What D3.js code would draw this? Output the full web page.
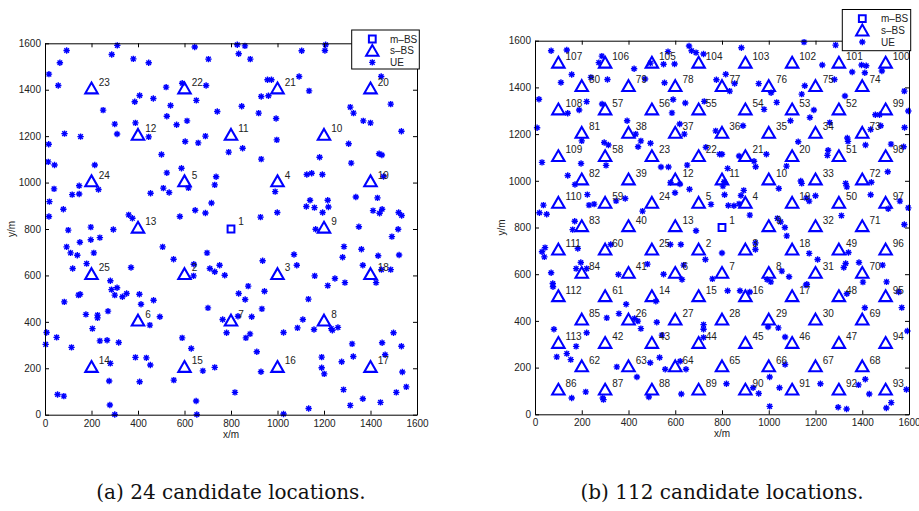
<!DOCTYPE html>
<html>
<head>
<meta charset="utf-8">
<title>candidate locations</title>
<script src="https://d3js.org/d3.v7.min.js"></script>
<style>
  body { margin: 0; background: #fff; }
  svg text { font-family: "Liberation Sans", Arial, sans-serif; }
</style>
</head>
<body>
<svg width="919" height="511"></svg>
<script>
// tick values shared by both panels
const ticks = [0, 200, 400, 600, 800, 1000, 1200, 1400, 1600];

// (a) 24 candidate locations
const aMacro = [[800, 800, 1]];
const aSmall = [
  [600,600,2],[1000,600,3],[1000,1000,4],[600,1000,5],[400,400,6],[800,400,7],[1200,400,8],
  [1200,800,9],[1200,1200,10],[800,1200,11],[400,1200,12],[400,800,13],[200,200,14],[600,200,15],
  [1000,200,16],[1400,200,17],[1400,600,18],[1400,1000,19],[1400,1400,20],[1000,1400,21],
  [600,1400,22],[200,1400,23],[200,1000,24],[200,600,25]
];
const aUE = [
  [93,1569],[64,1516],[17,1467],[57,1418],[311,1591],[287,1552],[380,1533],[446,1516],[644,1584],[703,1532],
  [827,1594],[833,1555],[250,1312],[386,1348],[407,1375],[466,1362],[300,1252],[310,1209],[389,1257],[84,1211],
  [153,1198],[446,1197],[16,1165],[14,1089],[41,1076],[214,1076],[230,970],[147,986],[147,951],[117,948],
  [39,973],[19,918],[79,885],[100,795],[17,854],[197,808],[197,754],[236,763],[150,743],[93,723],
  [294,798],[360,861],[376,846],[506,723],[501,1121],[524,1042],[509,976],[534,957],[454,954],[587,1062],
  [617,977],[580,854],[646,881],[690,869],[716,912],[730,990],[736,1025],[790,1131],[659,1171],[603,1177],
  [690,1200],[611,1266],[566,1249],[651,1354],[540,1332],[524,1286],[521,1411],[590,1428],[693,1418],[741,1306],
  [860,1589],[883,1532],[1104,1568],[1207,1594],[1204,1569],[1093,1457],[957,1443],[974,1443],[1136,1395],[930,1371],
  [961,1374],[846,1329],[919,1299],[994,1276],[997,1184],[850,1148],[930,1101],[1181,1109],[1306,1167],[1317,1084],
  [1313,1325],[1327,1299],[1369,1266],[1400,1257],[1487,1338],[1533,1221],[1446,1457],[1437,1124],[1449,1119],[1126,1035],
  [1147,1040],[1193,1035],[990,961],[999,871],[927,851],[1140,924],[1124,897],[1159,892],[1216,924],[1219,895],
  [1194,871],[1164,799],[1337,938],[1430,934],[1411,879],[1439,868],[1450,885],[1521,871],[1534,858],[1456,1026],
  [1350,810],[1519,799],[1492,767],[1286,724],[1361,713],
  [110,697],[139,687],[179,651],[210,697],[119,630],[553,670],[640,648],[639,598],[697,697],[709,630],
  [730,616],[751,644],[773,601],[370,634],[281,577],[286,539],[310,547],[300,515],[333,508],[351,522],
  [406,519],[413,476],[467,493],[494,422],[451,386],[83,486],[144,515],[151,519],[176,432],[226,429],
  [226,417],[271,446],[204,371],[7,354],[3,303],[50,333],[114,290],[236,318],[267,321],[317,311],
  [389,247],[436,245],[453,214],[281,221],[276,145],[279,42],[300,1],[407,142],[54,87],[81,80],
  [554,149],[590,331],[629,285],[679,189],[730,204],[650,59],[653,1],[701,460],[764,410],[781,353],
  [817,96],[833,522],[830,424],
  [936,663],[1071,690],[1083,644],[874,554],[861,496],[944,532],[933,456],[889,422],[864,331],[882,348],
  [911,271],[929,185],[1026,354],[1086,374],[1109,410],[1133,498],[1160,598],[1216,556],[1247,587],[1280,678],
  [1290,569],[1367,644],[1433,685],[1523,688],[1447,625],[1487,625],[1424,569],[1157,367],[1231,371],[1236,364],
  [1260,376],[1190,248],[1190,202],[1201,176],[1276,228],[1321,305],[1326,251],[1450,310],[1463,258],[1499,353],
  [1533,295],[1537,184],[1554,120],[1511,96],[1443,53],[1367,69],[1313,40],[1284,108],[1134,27],[1026,3]
];

// (b) 112 candidate locations
const bMacro = [[800, 800, 1]];
const bSmall = [
  [100,1500,107],[300,1500,106],[500,1500,105],[700,1500,104],[900,1500,103],[1100,1500,102],[1300,1500,101],[1500,1500,100],
  [200,1400,80],[400,1400,79],[600,1400,78],[800,1400,77],[1000,1400,76],[1200,1400,75],[1400,1400,74],
  [100,1300,108],[300,1300,57],[500,1300,56],[700,1300,55],[900,1300,54],[1100,1300,53],[1300,1300,52],[1500,1300,99],
  [200,1200,81],[400,1200,38],[600,1200,37],[800,1200,36],[1000,1200,35],[1200,1200,34],[1400,1200,73],
  [100,1100,109],[300,1100,58],[500,1100,23],[700,1100,22],[900,1100,21],[1100,1100,20],[1300,1100,51],[1500,1100,98],
  [200,1000,82],[400,1000,39],[600,1000,12],[800,1000,11],[1000,1000,10],[1200,1000,33],[1400,1000,72],
  [100,900,110],[300,900,59],[500,900,24],[700,900,5],[900,900,4],[1100,900,19],[1300,900,50],[1500,900,97],
  [200,800,83],[400,800,40],[600,800,13],[1000,800,9],[1200,800,32],[1400,800,71],
  [100,700,111],[300,700,60],[500,700,25],[700,700,2],[900,700,3],[1100,700,18],[1300,700,49],[1500,700,96],
  [200,600,84],[400,600,41],[600,600,6],[800,600,7],[1000,600,8],[1200,600,31],[1400,600,70],
  [100,500,112],[300,500,61],[500,500,14],[700,500,15],[900,500,16],[1100,500,17],[1300,500,48],[1500,500,95],
  [200,400,85],[400,400,26],[600,400,27],[800,400,28],[1000,400,29],[1200,400,30],[1400,400,69],
  [100,300,113],[300,300,42],[500,300,43],[700,300,44],[900,300,45],[1100,300,46],[1300,300,47],[1500,300,94],
  [200,200,62],[400,200,63],[600,200,64],[800,200,65],[1000,200,66],[1200,200,67],[1400,200,68],
  [100,100,86],[300,100,87],[500,100,88],[700,100,89],[900,100,90],[1100,100,91],[1300,100,92],[1500,100,93]
];
const bUE = [
  [69,1557],[136,1560],[286,1534],[273,1506],[157,1455],[111,1421],[239,1443],[310,1434],[424,1480],[471,1436],
  [494,1504],[550,1499],[569,1553],[597,1500],[554,1420],[659,1577],[670,1557],[689,1549],[721,1543],[17,1349],
  [221,1339],[189,1303],[140,1289],[287,1329],[591,1348],[643,1333],[586,1291],[724,1340],[9,1227],[394,1257],
  [431,1200],[619,1243],[639,1200],[453,1171],[441,1146],[494,1161],[296,1164],[314,1153],[200,1171],[197,1074],
  [30,1079],[140,1023],[171,984],[304,1066],[539,1059],[571,1059],[651,1067],[731,1144],[580,993],[620,986],
  [661,964],[599,949],[224,941],[231,896],[253,900],[347,914],[386,924],[460,870],[36,896],[19,863],
  [50,857],[170,827],[161,791],
  [883,1570],[1151,1594],[1286,1581],[1229,1496],[1357,1466],[1397,1496],[1417,1493],[1411,1463],[1484,1470],[776,1433],
  [816,1456],[854,1417],[833,1384],[957,1416],[1010,1377],[1154,1407],[1141,1371],[1281,1434],[1326,1363],[1580,1384],
  [980,1306],[1034,1336],[1193,1303],[1176,1271],[1093,1257],[1261,1249],[1456,1283],[1474,1283],[1479,1236],[1436,1220],
  [1597,1299],[1581,1228],[890,1236],[773,1214],[1126,1167],[1336,1183],[1339,1169],[1414,1153],[1523,1157],[1577,1146],
  [790,1114],[800,1114],[873,1106],[937,1084],[944,1060],[990,1114],[1254,1131],[1251,1109],[1076,1063],[824,1053],
  [809,996],[804,977],[1043,967],[1137,999],[1141,989],[1329,989],[1334,974],[1509,1039],[1439,994],[1436,940],
  [1200,936],[1161,926],[1173,913],[753,899],[811,940],[827,894],[851,893],[873,901],[881,937],[893,959],
  [919,853],[1311,851],[1561,913],[1511,880],[1597,884],[1037,839],[1051,824],[1069,800],[1580,813],
  [689,786],[30,696],[43,714],[40,674],[183,710],[324,727],[579,727],[624,727],[69,606],[76,560],
  [77,546],[196,650],[176,624],[221,624],[357,599],[481,643],[550,600],[636,639],[629,577],[729,663],
  [517,484],[390,471],[81,364],[221,349],[307,413],[359,431],[426,410],[440,399],[453,367],[521,394],
  [543,339],[721,384],[721,364],[721,329],[176,291],[93,246],[136,260],[153,234],[350,203],[436,160],
  [493,221],[533,243],[557,193],[621,227],[646,193],[157,70],[217,96],[290,70],[293,63],[487,74],[626,87],
  [1077,764],[800,691],[943,734],[943,706],[1173,689],[1209,663],[1341,693],[759,580],[1056,613],[1087,589],
  [993,577],[1009,567],[1163,557],[1159,553],[1321,629],[1329,646],[1386,650],[1403,566],[1487,639],[1504,567],
  [824,529],[877,529],[919,524],[1334,516],[1556,524],[1569,457],[1411,456],[997,374],[1041,370],[1070,331],
  [1593,357],[1070,213],[1004,160],[819,131],[933,114],[957,89],[1046,114],[1221,131],[1384,126],[1413,150],
  [1430,87],[1524,50],[1503,27],[1589,106],[1004,34],[1297,30],[1333,23]
];

const legendNames = ["m\u2013BS", "s\u2013BS", "UE"];
const captions = ["(a) 24 candidate locations.", "(b) 112 candidate locations."];

const blue = "#0000ff";
const svg = d3.select("svg");

const triPath = "M0,-7.2L6.2,3.6L-6.2,3.6Z";
const sqPath = "M-3.4,-3.4H3.4V3.4H-3.4Z";
const starPath = "M-3.2,0H3.2M0,-3.2V3.2M-2.3,-2.3L2.3,2.3M-2.3,2.3L2.3,-2.3";

function drawPanel(p) {
  const x = d3.scaleLinear().domain([0, 1600]).range([p.left, p.right]);
  const y = d3.scaleLinear().domain([0, 1600]).range([p.bottom, p.top]);
  const g = svg.append("g");

  // UE asterisks
  g.append("g").selectAll("path").data(p.ue).join("path")
    .attr("transform", d => `translate(${x(d[0])},${y(d[1])})`)
    .attr("d", starPath)
    .attr("stroke", blue).attr("stroke-width", 1.4).attr("fill", "none");

  // small base stations
  g.append("g").selectAll("path").data(p.small).join("path")
    .attr("transform", d => `translate(${x(d[0])},${y(d[1])})`)
    .attr("d", triPath)
    .attr("stroke", blue).attr("stroke-width", 2.1).attr("fill", "none");

  // macro base station
  g.append("g").selectAll("path").data(p.macro).join("path")
    .attr("transform", d => `translate(${x(d[0])},${y(d[1])})`)
    .attr("d", sqPath)
    .attr("stroke", blue).attr("stroke-width", 2).attr("fill", "none");

  // numbers next to base stations
  g.append("g").selectAll("text").data(p.small.concat(p.macro)).join("text")
    .attr("x", d => x(d[0]) + 7.2)
    .attr("y", d => y(d[1]) - 4)
    .attr("font-size", 10).attr("fill", "#222")
    .text(d => d[2]);

  // axes with inward ticks on all four sides
  const fmt = d3.format("d");
  const ax = g.append("g").attr("font-size", 10);
  ax.append("g").attr("transform", `translate(0,${p.bottom})`)
    .call(d3.axisBottom(x).tickValues(ticks).tickFormat(fmt).tickSizeInner(-4).tickSizeOuter(0).tickPadding(5));
  ax.append("g").attr("transform", `translate(${p.left},0)`)
    .call(d3.axisLeft(y).tickValues(ticks).tickFormat(fmt).tickSizeInner(-4).tickSizeOuter(0).tickPadding(4));
  ax.append("g").attr("transform", `translate(0,${p.top})`)
    .call(d3.axisTop(x).tickValues(ticks).tickSizeInner(-4).tickSizeOuter(0).tickFormat(""));
  ax.append("g").attr("transform", `translate(${p.right},0)`)
    .call(d3.axisRight(y).tickValues(ticks).tickSizeInner(-4).tickSizeOuter(0).tickFormat(""));
  ax.selectAll("text").attr("fill", "#222").attr("font-family", "Liberation Sans, Arial, sans-serif");
  ax.selectAll(".domain").attr("stroke", "#000");

  // axis titles
  g.append("text").attr("x", (p.left + p.right) / 2).attr("y", p.bottom + 23)
    .attr("text-anchor", "middle").attr("font-size", 10).attr("fill", "#222").text("x/m");
  g.append("text")
    .attr("transform", `translate(${p.left - 30},${(p.top + p.bottom) / 2}) rotate(-90)`)
    .attr("text-anchor", "middle").attr("font-size", 10).attr("fill", "#222").text("y/m");

  // legend
  const L = p.legend;
  const lg = g.append("g");
  lg.append("rect").attr("x", L.x0).attr("y", L.y0).attr("width", L.x1 - L.x0).attr("height", L.y1 - L.y0)
    .attr("fill", "#fff").attr("stroke", "#000").attr("stroke-width", 1);
  const shapes = [sqPath, triPath, starPath];
  legendNames.forEach((name, i) => {
    const ry = L.row0 + i * 11.7;
    lg.append("path").attr("transform", `translate(${L.mx},${ry + (i === 1 ? 1.5 : 0)})`).attr("d", shapes[i])
      .attr("stroke", blue).attr("stroke-width", i === 2 ? 1.4 : 2).attr("fill", "none");
    lg.append("text").attr("x", L.tx).attr("y", ry + 3.5).attr("font-size", 10).attr("fill", "#222").text(name);
  });

  // caption
  svg.append("text").attr("x", (p.left + p.right) / 2).attr("y", 499)
    .attr("text-anchor", "middle")
    .style("font-family", "'DejaVu Serif', 'Liberation Serif', serif")
    .style("font-size", "20px").attr("fill", "#111").text(p.caption);
}

drawPanel({
  left: 45, right: 417, top: 43.3, bottom: 414.7,
  macro: aMacro, small: aSmall, ue: aUE, caption: captions[0],
  legend: { x0: 351.7, x1: 419.3, y0: 30, y1: 69, row0: 39, mx: 372.3, tx: 390 }
});
drawPanel({
  left: 535, right: 909, top: 40.7, bottom: 414.3,
  macro: bMacro, small: bSmall, ue: bUE, caption: captions[1],
  legend: { x0: 842.3, x1: 910.7, y0: 9.5, y1: 50.7, row0: 18.6, mx: 862.3, tx: 881 }
});
</script>
</body>
</html>
